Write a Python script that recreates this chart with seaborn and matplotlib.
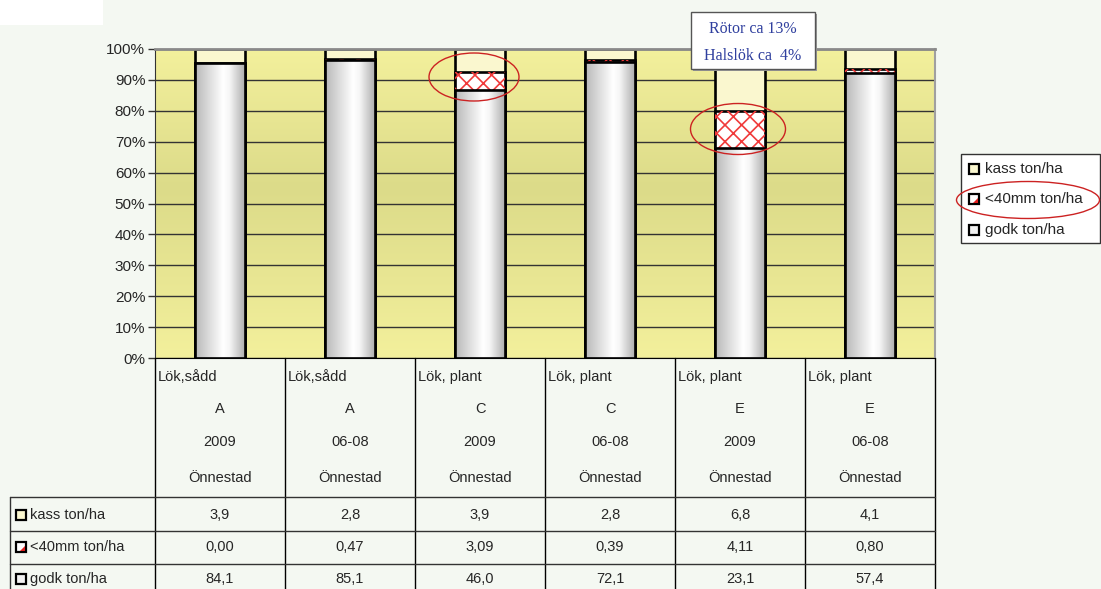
import numpy as np
import pandas as pd
import matplotlib
matplotlib.use('Agg')
import matplotlib.pyplot as plt
import seaborn as sns
from matplotlib.patches import Rectangle, Ellipse, Polygon
from matplotlib.colors import LinearSegmentedColormap

# Data (ton/ha, as in the table under the chart)
crops = ["Lök,sådd", "Lök,sådd", "Lök, plant", "Lök, plant", "Lök, plant", "Lök, plant"]
places = ["A", "A", "C", "C", "E", "E"]
years = ["2009", "06-08", "2009", "06-08", "2009", "06-08"]
sites = ["Önnestad", "Önnestad", "Önnestad", "Önnestad", "Önnestad", "Önnestad"]
kass = [3.9, 2.8, 3.9, 2.8, 6.8, 4.1]
small = [0.00, 0.47, 3.09, 0.39, 4.11, 0.80]
godk = [84.1, 85.1, 46.0, 72.1, 23.1, 57.4]
series_names = ["kass ton/ha", "<40mm ton/ha", "godk ton/ha"]
note_lines = ["Rötor ca 13%", "Halslök ca  4%"]

# Colours
fig_bg = '#f4f8f2'
kass_color = '#faf7cf'
hatch_red = '#f03a3a'
note_blue = '#2f3f9e'
line_col = '#333333'

W, H = 1101, 589

sns.set_style('white')
plt.rcParams['font.family'] = ['Liberation Sans', 'DejaVu Sans']
plt.rcParams['hatch.linewidth'] = 1.2

# 100 % stacking
df = pd.DataFrame({'key': [f"{p} {y}" for p, y in zip(places, years)],
                   'kass': kass, 'small': small, 'godk': godk})
total = df['kass'] + df['small'] + df['godk']
df['godk_pct'] = df['godk'] / total * 100
df['mid_pct'] = (df['godk'] + df['small']) / total * 100
df['top_pct'] = 100.0

fig = plt.figure(figsize=(W / 100, H / 100), dpi=100, facecolor=fig_bg)
ax = fig.add_axes([155 / W, (H - 358) / H, 780 / W, 309 / H])

# yellow gradient background of the plot area
bg_cmap = LinearSegmentedColormap.from_list('bg', [(0, '#f3f09c'), (0.55, '#dcdb89'), (1, '#f3f09c')])
grad = np.linspace(0, 1, 256).reshape(-1, 1)
ax.imshow(grad, cmap=bg_cmap, aspect='auto', extent=(-0.5, 5.5, 0, 100),
          origin='lower', zorder=0, interpolation='bicubic')

bar_kws = dict(edgecolor='black', linewidth=1.9, width=0.39, saturation=1, ax=ax)
sns.barplot(data=df, x='key', y='top_pct', color=kass_color, **bar_kws)
sns.barplot(data=df, x='key', y='mid_pct', color='white', **bar_kws)
sns.barplot(data=df, x='key', y='godk_pct', color='#d8d8d8', **bar_kws)

# red hatch on the <40 mm segment
for p in ax.containers[1]:
    x0, w = p.get_x(), p.get_width()
    ax.add_patch(Rectangle((x0, 0), w, p.get_height(), facecolor='none',
                           edgecolor=hatch_red, hatch='xx', linewidth=0, zorder=1.2))

# grey-white-grey cylinder look on godk segment
bar_cmap = LinearSegmentedColormap.from_list('cyl', [(0, '#b8b8b8'), (0.55, '#ffffff'),
                                                     (0.68, '#f6f6f6'), (1, '#a9a9a9')])
hgrad = np.linspace(0, 1, 256).reshape(1, -1)
for p in ax.containers[2]:
    x0, w, h = p.get_x(), p.get_width(), p.get_height()
    im = ax.imshow(hgrad, cmap=bar_cmap, aspect='auto', extent=(x0, x0 + w, 0, h),
                   zorder=2.5, interpolation='bicubic')
    im.set_clip_path(p)
    p.set_facecolor('none')
    p.set_zorder(3)

ax.set_xlim(-0.5, 5.5)
ax.set_ylim(0, 100)
ax.set_yticks(np.arange(0, 101, 10))
ax.set_yticklabels([f"{v}%" for v in range(0, 101, 10)], fontsize=11)
ax.set_xticks([])
ax.set_xlabel('')
ax.set_ylabel('')
ax.yaxis.grid(True, color=line_col, linewidth=1)
ax.set_axisbelow(True)
ax.tick_params(axis='y', left=True, length=5, width=1, color=line_col, pad=2)
ax.spines['top'].set_color('#8a8a8a')
ax.spines['top'].set_linewidth(2)
ax.spines['right'].set_color('#a0a0a0')
ax.spines['right'].set_linewidth(1.5)
ax.spines['left'].set_color(line_col)
ax.spines['bottom'].set_color('black')

# overlay in pixel coordinates for table, legend and notes
ov = fig.add_axes([0, 0, 1, 1])
ov.set_xlim(0, W)
ov.set_ylim(H, 0)
ov.axis('off')
ov.patch.set_alpha(0)

ov.add_patch(Rectangle((0, 0), 103, 25, facecolor='white', edgecolor='none'))

col_edges = [155 + 130 * i for i in range(7)]
for x in col_edges:
    ov.plot([x, x], [358, H], color='black', lw=1)
for y in [497, 531, 564]:
    ov.plot([10, 935], [y, y], color=line_col, lw=1)
ov.plot([10, 10], [497, H], color=line_col, lw=1)

fs = 10.5
for i in range(6):
    cx = 220 + 130 * i
    ov.text(col_edges[i] + 3, 377, crops[i], ha='left', va='center', fontsize=fs)
    ov.text(cx, 409, places[i], ha='center', va='center', fontsize=fs)
    ov.text(cx, 442, years[i], ha='center', va='center', fontsize=fs)
    ov.text(cx, 478, sites[i], ha='center', va='center', fontsize=fs)
    ov.text(cx, 515, f"{kass[i]:.1f}".replace('.', ','), ha='center', va='center', fontsize=fs)
    ov.text(cx, 547, f"{small[i]:.2f}".replace('.', ','), ha='center', va='center', fontsize=fs)
    ov.text(cx, 579, f"{godk[i]:.1f}".replace('.', ','), ha='center', va='center', fontsize=fs)


def key_square(x, y, kind):
    face = {0: kass_color, 1: 'white', 2: '#f2f2f2'}[kind]
    ov.add_patch(Rectangle((x - 5, y - 5), 10, 10, facecolor=face, edgecolor='black', lw=1.6))
    if kind == 1:
        ov.add_patch(Polygon([(x + 4, y - 1), (x + 4, y + 4), (x - 1, y + 4)],
                             closed=True, facecolor='#e02020', edgecolor='none'))


# row labels of the table
for y, kind in zip([515, 547, 579], [0, 1, 2]):
    key_square(21, y, kind)
    ov.text(30, y, series_names[kind], ha='left', va='center', fontsize=fs)

# legend
ov.add_patch(Rectangle((961, 154), 139, 89, facecolor='white', edgecolor=line_col, lw=1))
for y, kind in zip([169, 199, 230], [0, 1, 2]):
    key_square(974, y, kind)
    ov.text(985, y, series_names[kind], ha='left', va='center', fontsize=11)

# note box
ov.add_patch(Rectangle((693, 14), 124, 57, facecolor='#9a9a9a', edgecolor='none'))
ov.add_patch(Rectangle((691, 12), 124, 57, facecolor='white', edgecolor='#555555', lw=1))
ov.text(753, 29, note_lines[0], ha='center', va='center', fontsize=11.5, color=note_blue,
        family=['Liberation Serif', 'DejaVu Serif'])
ov.text(753, 56, note_lines[1], ha='center', va='center', fontsize=11.5, color=note_blue,
        family=['Liberation Serif', 'DejaVu Serif'])

# red ellipses
for cx, cy, w, h in [(474, 77, 90, 48), (738, 129, 95, 51), (1028, 200, 143, 37)]:
    ov.add_patch(Ellipse((cx, cy), w, h, facecolor='none', edgecolor='#cc2222', lw=1))

fig.savefig('out.png', dpi=100, facecolor=fig_bg)
